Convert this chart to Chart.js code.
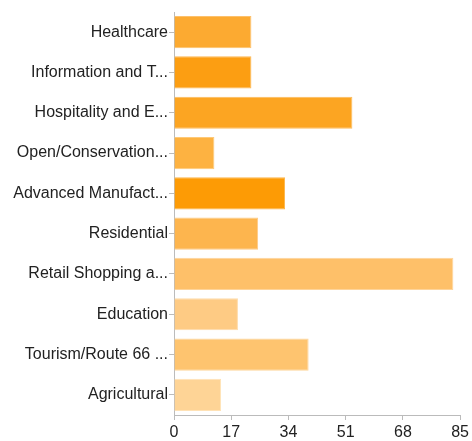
<!DOCTYPE html>
<html>
<head>
<meta charset="utf-8">
<script src="https://cdn.jsdelivr.net/npm/chart.js@4"></script>
<style>
  html, body { margin: 0; padding: 0; background: #fff; }
  #wrap { width: 472px; height: 441px; }
</style>
</head>
<body>
<div id="wrap"><canvas id="barChart" width="472" height="441"></canvas></div>
<script>
const categories = [
  "Healthcare",
  "Information and T...",
  "Hospitality and E...",
  "Open/Conservation...",
  "Advanced Manufact...",
  "Residential",
  "Retail Shopping a...",
  "Education",
  "Tourism/Route 66 ...",
  "Agricultural"
];
const values = [23, 23, 53, 12, 33, 25, 83, 19, 40, 14];
const xTicks = [0, 17, 34, 51, 68, 85];

const barColors = [
  "#FCAA31", "#FC9E12", "#FCA522", "#FDB241", "#FD9B05",
  "#FDB54E", "#FEC069", "#FECB84", "#FEC46F", "#FED496"
];
const borderColors = [
  "#FDC06A", "#FDB650", "#FDBC5C", "#FEC978", "#FDB548",
  "#FECB85", "#FED49A", "#FEDCAA", "#FED69C", "#FFE2B6"
];

const ctx = document.getElementById("barChart").getContext("2d");

new Chart(ctx, {
  type: "bar",
  data: {
    labels: categories,
    datasets: [
      {
        data: values,
        backgroundColor: barColors,
        borderColor: borderColors,
        borderWidth: 1,
        categoryPercentage: 0.8,
        barPercentage: 1
      }
    ]
  },
  options: {
    indexAxis: "y",
    responsive: false,
    animation: false,
    layout: { padding: { top: 12, right: 11, bottom: 0, left: 0 } },
    plugins: {
      legend: { display: false },
      tooltip: { enabled: false }
    },
    scales: {
      x: {
        min: 0,
        max: 85,
        afterBuildTicks: (axis) => {
          axis.ticks = xTicks.map((v) => ({ value: v }));
        },
        afterFit: (axis) => {
          axis.height = 26;
        },
        grid: {
          drawOnChartArea: false,
          drawTicks: true,
          tickLength: 5,
          color: "#bbbbbb"
        },
        border: { color: "#bbbbbb" },
        ticks: {
          color: "#222",
          padding: 3,
          maxRotation: 0,
          font: { family: "Liberation Sans", size: 16 }
        }
      },
      y: {
        afterFit: (axis) => {
          axis.width = 174;
        },
        grid: {
          offset: false,
          drawOnChartArea: false,
          drawTicks: true,
          tickLength: 5,
          color: "#bbbbbb"
        },
        border: { color: "#bbbbbb" },
        ticks: {
          color: "#222",
          padding: 1,
          font: { family: "Liberation Sans", size: 16 }
        }
      }
    }
  }
});
</script>
</body>
</html>
